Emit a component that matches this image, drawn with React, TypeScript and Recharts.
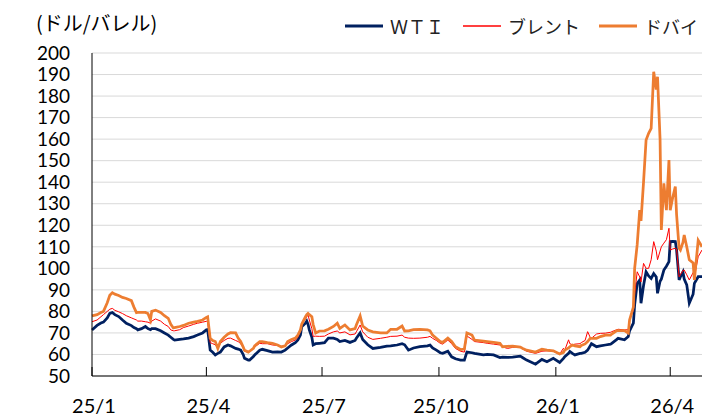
import React from 'react';
import { LineChart, Line, XAxis, YAxis, CartesianGrid } from 'recharts';

// days since 2025-01-01
const days = [
  0, 4, 7, 9, 12, 14, 16, 18, 21, 24, 27, 31, 33, 35, 36, 39, 42, 44, 46, 47,
  50, 54, 57, 60, 62, 64, 65, 69, 72, 76, 80, 83, 87, 90, 91, 93, 95, 97, 99, 101,
  104, 107, 109, 113, 115, 117, 119, 120, 123, 124, 127, 128, 132, 134, 138, 142, 146, 149, 152, 154,
  157, 160, 162, 164, 165, 168, 169, 170, 171, 173, 174, 176, 179, 183, 186, 190, 193, 195, 199, 203,
  207, 208, 211, 213, 217, 221, 227, 232, 235, 240, 244, 246, 249, 253, 258, 264, 266, 268, 271, 274,
  276, 280, 283, 286, 290, 293, 295, 299, 301, 308, 311, 316, 321, 323, 327, 331, 337, 339, 342, 349,
  354, 358, 363, 368, 371, 372, 375, 376, 378, 380, 384, 385, 388, 390, 392, 393, 397, 400, 404, 408,
  409, 413, 414, 419, 422, 423, 426, 427, 429, 431, 432, 434, 436, 438, 440, 442, 444, 445, 447, 448,
  450, 452, 454, 455, 457, 459, 460, 462, 463, 465, 466, 468, 470, 473, 474, 477, 480,
];

const wti = [
  71.4, 73.5, 74.6, 75.0, 77.0, 79.1, 79.5, 78.5, 77.6, 76.0, 74.5, 73.4, 72.5, 72.0, 71.4, 72.0, 73.0, 72.0, 71.5, 72.0,
  72.0, 71.0, 70.0, 69.0, 68.0, 67.0, 66.7, 67.0, 67.2, 67.6, 68.3, 69.0, 70.0, 71.4, 71.5, 62.0, 61.0, 59.8, 60.5, 61.1,
  63.5, 64.4, 64.0, 62.8, 62.5, 62.0, 60.0, 58.2, 57.4, 57.4, 59.0, 59.8, 62.0, 62.4, 61.8, 61.1, 61.2, 61.1, 62.0, 63.0,
  64.4, 65.5, 66.7, 69.0, 72.9, 74.5, 75.5, 74.0, 71.4, 68.0, 64.4, 65.0, 65.2, 65.5, 67.6, 67.6, 67.0, 66.0, 66.5, 65.6,
  66.5, 67.5, 70.0, 67.0, 64.5, 62.8, 63.3, 63.9, 64.0, 64.4, 65.0, 64.5, 62.0, 63.0, 63.6, 64.0, 64.4, 63.0, 62.0, 60.8,
  60.5, 61.5, 58.9, 58.0, 57.4, 57.4, 61.1, 60.8, 60.5, 59.8, 60.0, 59.8, 58.6, 58.8, 58.6, 58.8, 59.2, 58.5, 57.4, 55.5,
  57.7, 56.6, 58.2, 56.3, 58.2, 59.0, 60.5, 61.4, 60.5, 59.8, 60.5, 60.5, 61.0, 62.0, 64.0, 65.0, 63.6, 64.0, 64.4, 64.8,
  65.2, 67.0, 67.5, 66.8, 68.3, 71.0, 74.5, 83.0, 93.0, 94.6, 83.8, 92.0, 98.4, 96.5, 95.3, 97.6, 96.0, 88.4, 94.0, 95.0,
  99.2, 101.0, 103.1, 112.4, 112.5, 112.4, 108.5, 94.6, 96.0, 98.4, 95.0, 92.3, 83.8, 88.0, 93.0, 96.1, 96.1,
];

const brent = [
  75.2, 76.0, 77.5, 78.5, 80.0, 81.0, 81.4, 80.5, 79.8, 79.0, 78.0, 77.0, 76.5, 76.0, 75.5, 75.5, 75.2, 75.0, 74.5, 75.5,
  76.5, 75.5, 74.0, 73.0, 71.4, 71.0, 71.0, 71.5, 72.5, 73.2, 74.0, 74.5, 75.0, 75.4, 75.0, 65.5, 65.0, 64.5, 63.0, 65.2,
  66.5, 67.5, 67.6, 66.5, 66.0, 65.0, 63.0, 61.5, 61.1, 61.5, 63.0, 63.5, 65.2, 65.0, 65.0, 64.4, 64.2, 63.8, 64.0, 65.0,
  66.0, 66.7, 68.0, 71.0, 74.0, 76.5, 77.5, 78.3, 76.0, 72.0, 68.4, 68.5, 68.4, 68.5, 69.5, 70.5, 70.9, 70.0, 70.5, 69.1,
  69.5, 70.5, 73.7, 70.5, 68.0, 67.0, 67.5, 68.0, 68.4, 68.5, 69.0, 68.0, 67.6, 67.5, 67.6, 68.0, 68.4, 67.5, 66.5, 65.2,
  64.8, 66.7, 65.0, 62.8, 61.5, 61.1, 68.6, 67.0, 66.0, 65.5, 65.2, 64.8, 64.4, 63.5, 62.8, 63.3, 63.6, 62.5, 61.5, 60.5,
  61.5, 61.7, 61.5, 60.2, 62.9, 62.0, 66.8, 65.0, 64.5, 64.8, 65.0, 65.5, 66.5, 70.6, 68.0, 67.5, 69.5, 69.8, 69.9, 70.3,
  70.6, 71.5, 71.7, 71.4, 71.5, 76.0, 80.6, 88.0, 98.4, 96.0, 93.7, 102.3, 100.0, 100.0, 104.0, 112.4, 108.0, 104.0, 108.0, 110.0,
  111.7, 113.3, 118.6, 108.5, 109.0, 109.3, 109.0, 96.1, 97.0, 99.0, 99.2, 97.0, 94.6, 98.0, 96.0, 105.4, 108.5,
];

const dubai = [
  77.9, 78.5, 79.5, 80.0, 84.0, 87.5, 88.7, 88.0, 87.4, 86.5, 86.0, 85.0, 82.0, 79.4, 79.5, 79.5, 79.5, 79.0, 76.0, 80.0,
  80.6, 79.5, 78.0, 76.8, 74.0, 72.3, 72.5, 73.0, 73.5, 74.5, 75.0, 75.4, 76.0, 77.2, 77.5, 67.5, 66.5, 66.0, 62.8, 66.0,
  68.0, 69.5, 70.1, 70.0, 67.6, 66.0, 63.5, 62.0, 61.1, 61.5, 62.8, 64.0, 66.0, 66.0, 65.5, 65.2, 64.4, 63.5, 64.0, 66.0,
  67.0, 67.6, 69.0, 71.4, 74.0, 77.5, 78.5, 79.1, 78.5, 77.5, 74.0, 70.0, 70.9, 71.0, 71.7, 73.0, 74.5, 72.1, 73.7, 71.4,
  72.0, 73.7, 77.9, 73.2, 71.4, 70.5, 70.0, 70.0, 71.7, 71.7, 73.2, 70.9, 71.0, 71.5, 71.7, 71.4, 71.0, 69.0, 67.5, 66.0,
  65.6, 67.6, 66.0, 63.6, 62.3, 62.5, 70.0, 69.0, 66.7, 66.2, 66.0, 65.6, 65.2, 63.6, 63.8, 63.9, 63.4, 62.8, 62.0, 61.1,
  62.4, 62.0, 61.7, 60.2, 61.0, 62.0, 63.0, 63.6, 64.4, 64.0, 63.6, 64.2, 64.9, 66.0, 67.5, 67.5, 67.5, 68.3, 69.0, 69.0,
  69.5, 71.1, 71.1, 71.1, 69.9, 76.0, 82.0, 100.0, 111.0, 127.0, 122.0, 140.0, 159.6, 162.7, 165.0, 191.3, 183.0, 189.0, 160.0, 117.8,
  139.5, 127.0, 150.3, 127.0, 133.0, 138.0, 125.0, 109.3, 108.5, 112.0, 115.5, 110.0, 104.0, 102.5, 94.6, 113.0, 110.0,
];

const tickDays = [0, 90, 181, 273, 365, 455];
const tickLabels = ['25/1', '25/4', '25/7', '25/10', '26/1', '26/4'];
const yTicks = [50, 60, 70, 80, 90, 100, 110, 120, 130, 140, 150, 160, 170, 180, 190, 200];

const data = days.map((day, i) => ({ day, wti: wti[i], brent: brent[i], dubai: dubai[i] }));

const series = [
  { key: 'wti', name: 'ＷＴＩ', color: '#002060', width: 2.75, legendWidth: 3 },
  { key: 'brent', name: 'ブレント', color: '#ff0000', width: 1, legendWidth: 1.5 },
  { key: 'dubai', name: 'ドバイ', color: '#ed7d31', width: 2.75, legendWidth: 3 },
];

const numFont = 'Lato, "Noto Sans", sans-serif';
const jpFont = '"Noto Sans CJK JP", "Noto Sans", sans-serif';

const XTick = (props: any) => {
  const { x, y, payload } = props;
  const idx = tickDays.indexOf(payload.value);
  return (
    <g>
      <line x1={x} y1={y} x2={x} y2={y - 9} stroke="#000" strokeWidth={1} />
      <text x={x + 2} y={y + 37} textAnchor="middle" fontSize={20} fontFamily={numFont} fill="#000">
        {idx >= 0 ? tickLabels[idx] : ''}
      </text>
    </g>
  );
};

export default function App() {
  return (
    <div style={{ position: 'relative', width: 702, height: 416, background: '#fff' }}>
      <style>{'body{margin:0}'}</style>
      <div
        style={{
          position: 'absolute', left: 36, top: 10, fontSize: 20, lineHeight: '26px',
          fontFamily: jpFont, color: '#000', whiteSpace: 'nowrap',
        }}
      >
        (ドル/バレル)
      </div>
      <div
        style={{
          position: 'absolute', left: 345, top: 13, display: 'flex', alignItems: 'center',
          fontSize: 18, lineHeight: '26px', fontFamily: jpFont, color: '#222', whiteSpace: 'nowrap',
        }}
      >
        {series.map((s, i) => (
          <div key={s.key} style={{ display: 'flex', alignItems: 'center', marginRight: i < 2 ? 19 : 0 }}>
            <svg width={38} height={6} style={{ marginRight: 7 }}>
              <line x1={0} y1={3} x2={38} y2={3} stroke={s.color} strokeWidth={s.legendWidth} />
            </svg>
            <span>{s.name}</span>
          </div>
        ))}
      </div>
      <LineChart
        width={702}
        height={416}
        data={data}
        margin={{ top: 53, right: 0, bottom: 0, left: 0 }}
        style={{ position: 'absolute', left: 0, top: 0 }}
      >
        <CartesianGrid vertical={false} stroke="#d9d9d9" />
        <XAxis
          dataKey="day"
          type="number"
          domain={[0, 480]}
          ticks={tickDays}
          interval={0}
          height={40}
          tickSize={0}
          tickMargin={0}
          tickLine={false}
          axisLine={{ stroke: '#000' }}
          tick={<XTick />}
        />
        <YAxis
          domain={[50, 200]}
          ticks={yTicks}
          interval={0}
          width={92}
          tickSize={0}
          tickMargin={22}
          tickLine={false}
          axisLine={{ stroke: '#000' }}
          tick={{ fontSize: 19, fontFamily: numFont, fill: '#000' }}
        />
        {series.map((s) => (
          <Line
            key={s.key}
            type="linear"
            dataKey={s.key}
            name={s.name}
            stroke={s.color}
            strokeWidth={s.width}
            dot={false}
            isAnimationActive={false}
          />
        ))}
      </LineChart>
    </div>
  );
}
